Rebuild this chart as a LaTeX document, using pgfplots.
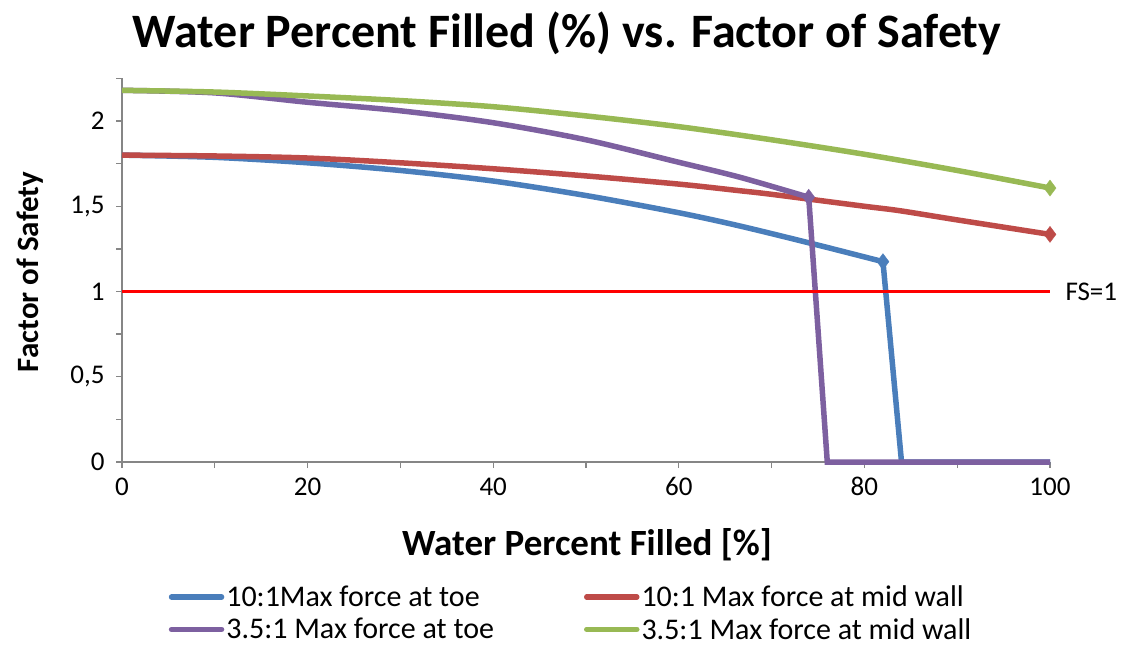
\documentclass[border=0pt]{standalone}
\usepackage{pgfplots}
\pgfplotsset{compat=1.18}
\usepackage{fontspec}
\setmainfont{Carlito}
\definecolor{sblue}{HTML}{4A7EBB}
\definecolor{sred}{HTML}{BE4B48}
\definecolor{spurple}{HTML}{7D60A0}
\definecolor{sgreen}{HTML}{98B954}
\definecolor{axgray}{HTML}{868686}
\begin{document}
\begin{tikzpicture}
\path[use as bounding box] (-122pt,-183pt) rectangle (1006pt,462pt);
\begin{axis}[
  at={(0pt,0pt)}, anchor=origin,
  scale only axis, width=928pt, height=383.6pt,
  xmin=0, xmax=100, ymin=0, ymax=2.25,
  axis lines*=left,
  axis line style={draw=axgray, line width=1.3pt},
  xtick={0,20,40,60,80,100}, xticklabels={0,20,40,60,80,100},
  minor xtick={10,30,50,70,90},
  ytick={0,0.5,1,1.5,2}, yticklabels={0,{0,5},1,{1,5},2},
  minor ytick={0.25,0.75,1.25,1.75,2.25},
  tick align=outside, major tick length=6pt, minor tick length=6pt,
  every tick/.style={draw=axgray, line width=1.3pt},
  every minor tick/.style={draw=axgray, line width=1.3pt},
  ticklabel style={font=\fontsize{27}{30}\selectfont, text=black},
  xticklabel style={yshift=-6pt},
  yticklabel style={xshift=-8pt},
  clip=false,
  legend columns=2,
  legend cell align=left,
  legend style={at={(0.047,-0.312)}, anchor=north west, draw=none,
    font=\fontsize{30}{33}\selectfont, row sep=6pt,
    /tikz/every even column/.append style={column sep=88pt}},
  legend image code/.code={\draw[#1, line width=5.5pt, line cap=round] (0pt,0pt) -- (50pt,0pt);},
]
% 10:1 Max force at toe
\addplot[sblue, line width=5.5pt, smooth, tension=0.5] coordinates {
(0,1.80)(10,1.787)(20,1.755)(30,1.71)(40,1.648)(50,1.563)(60,1.462)(66.6,1.384)(74.5,1.279)(82,1.175)};
\addlegendentry{10:1Max force at toe}
\addplot[sblue, line width=5.5pt, forget plot] coordinates {(82,1.175)(84,0)(100,0)};
\addplot[sblue, only marks, mark=diamond*, mark size=8pt, forget plot] coordinates {(82,1.175)};
% 10:1 Max force at mid wall
\addplot[sred, line width=5.5pt, smooth, tension=0.5] coordinates {
(0,1.80)(10,1.795)(20,1.783)(30,1.755)(40,1.72)(50,1.678)(60,1.63)(66.6,1.591)(70,1.57)(80,1.50)(83.8,1.474)(90,1.42)(100,1.335)};
\addlegendentry{10:1 Max force at mid wall}
\addplot[sred, only marks, mark=diamond*, mark size=8pt, forget plot] coordinates {(100,1.335)};
% 3.5:1 Max force at toe
\addplot[spurple, line width=5.5pt, smooth, tension=0.5] coordinates {
(0,2.18)(10,2.165)(20,2.11)(30,2.06)(40,1.99)(50,1.89)(60,1.758)(66.6,1.67)(74,1.553)};
\addlegendentry{3.5:1 Max force at toe}
\addplot[spurple, line width=5.5pt, forget plot] coordinates {(74,1.553)(76,0)(100,0)};
\addplot[spurple, only marks, mark=diamond*, mark size=8pt, forget plot] coordinates {(74,1.553)};
% 3.5:1 Max force at mid wall
\addplot[sgreen, line width=5.5pt, smooth, tension=0.5] coordinates {
(0,2.18)(10,2.17)(20,2.147)(30,2.12)(40,2.084)(50,2.03)(60,1.967)(70,1.89)(80,1.805)(90,1.71)(100,1.607)};
\addlegendentry{3.5:1 Max force at mid wall}
\addplot[sgreen, only marks, mark=diamond*, mark size=8pt, forget plot] coordinates {(100,1.607)};
% FS = 1
\addplot[red, line width=2.6pt, forget plot] coordinates {(0,1)(100,1)};
\node[anchor=west, font=\fontsize{27}{30}\selectfont] at (axis cs:100,1) [xshift=12pt] {FS=1};
\end{axis}
\node[font=\fontsize{48}{52}\selectfont\bfseries] at (445pt,429pt) {Water Percent Filled (\%) vs. Factor of Safety};
\node[font=\fontsize{37}{40}\selectfont\bfseries] at (465pt,-83pt) {Water Percent Filled [\%]};
\node[font=\fontsize{31}{34}\selectfont\bfseries, rotate=90] at (-92pt,190pt) {Factor of Safety};
\end{tikzpicture}
\end{document}
